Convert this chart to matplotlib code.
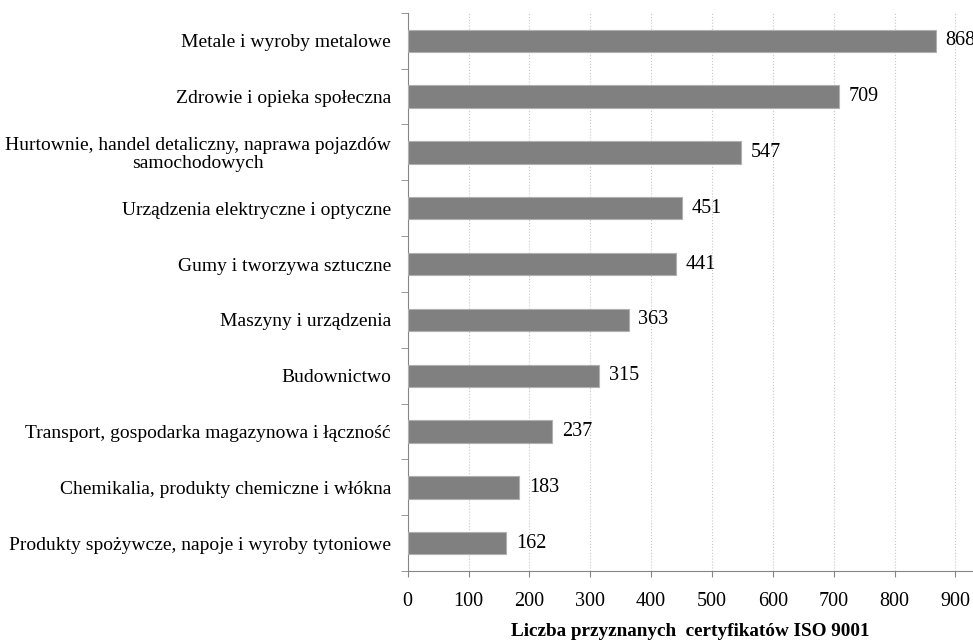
import matplotlib.pyplot as plt
import numpy as np

plt.rcParams['font.family'] = ['Liberation Serif', 'DejaVu Serif']

categories = [
    "Metale i wyroby metalowe",
    "Zdrowie i opieka społeczna",
    "Hurtownie, handel detaliczny, naprawa pojazdów\nsamochodowych",
    "Urządzenia elektryczne i optyczne",
    "Gumy i tworzywa sztuczne",
    "Maszyny i urządzenia",
    "Budownictwo",
    "Transport, gospodarka magazynowa i łączność",
    "Chemikalia, produkty chemiczne i włókna",
    "Produkty spożywcze, napoje i wyroby tytoniowe",
]
counts = [868, 709, 547, 451, 441, 363, 315, 237, 183, 162]
xticks = list(range(0, 1000, 100))

fig = plt.figure(figsize=(9.73, 6.41), dpi=100)
ax = fig.add_axes([0.419, 0.109, 0.581, 0.871])

y = np.arange(len(categories))[::-1]
ax.barh(y, counts, height=0.4, color='#808080', edgecolor='#b0b0b0', linewidth=0.8, zorder=3)

# value labels; the longest one runs past the right edge and is clipped there
for yi, v in zip(y, counts):
    ax.annotate(str(v), (v, yi), xytext=(7, 0), textcoords='offset points',
                va='center', ha='left', fontsize=14.5, clip_on=False)

ax.set_xlim(0, 929)
ax.set_ylim(-0.5, len(categories) - 0.5)
ax.set_xticks(xticks)
ax.tick_params(axis='x', labelsize=14.5, length=4, color='#868686', pad=11)

ax.set_yticks(y)
ax.set_yticklabels(categories, fontsize=14, multialignment='center', linespacing=1.05)
ax.tick_params(axis='y', length=0, pad=12)
ax.set_yticks(np.arange(-0.5, len(categories), 1.0), minor=True)
ax.tick_params(axis='y', which='minor', length=5, color='#868686')

ax.grid(axis='x', color='#c8c8c8', linestyle=':', linewidth=0.8, zorder=0)
for s in ['top', 'right']:
    ax.spines[s].set_visible(False)
for s in ['left', 'bottom']:
    ax.spines[s].set_color('#868686')

ax.set_xlabel("Liczba przyznanych  certyfikatów ISO 9001", fontsize=13.8, fontweight='bold', labelpad=9)

fig.savefig('out.png', dpi=100)
